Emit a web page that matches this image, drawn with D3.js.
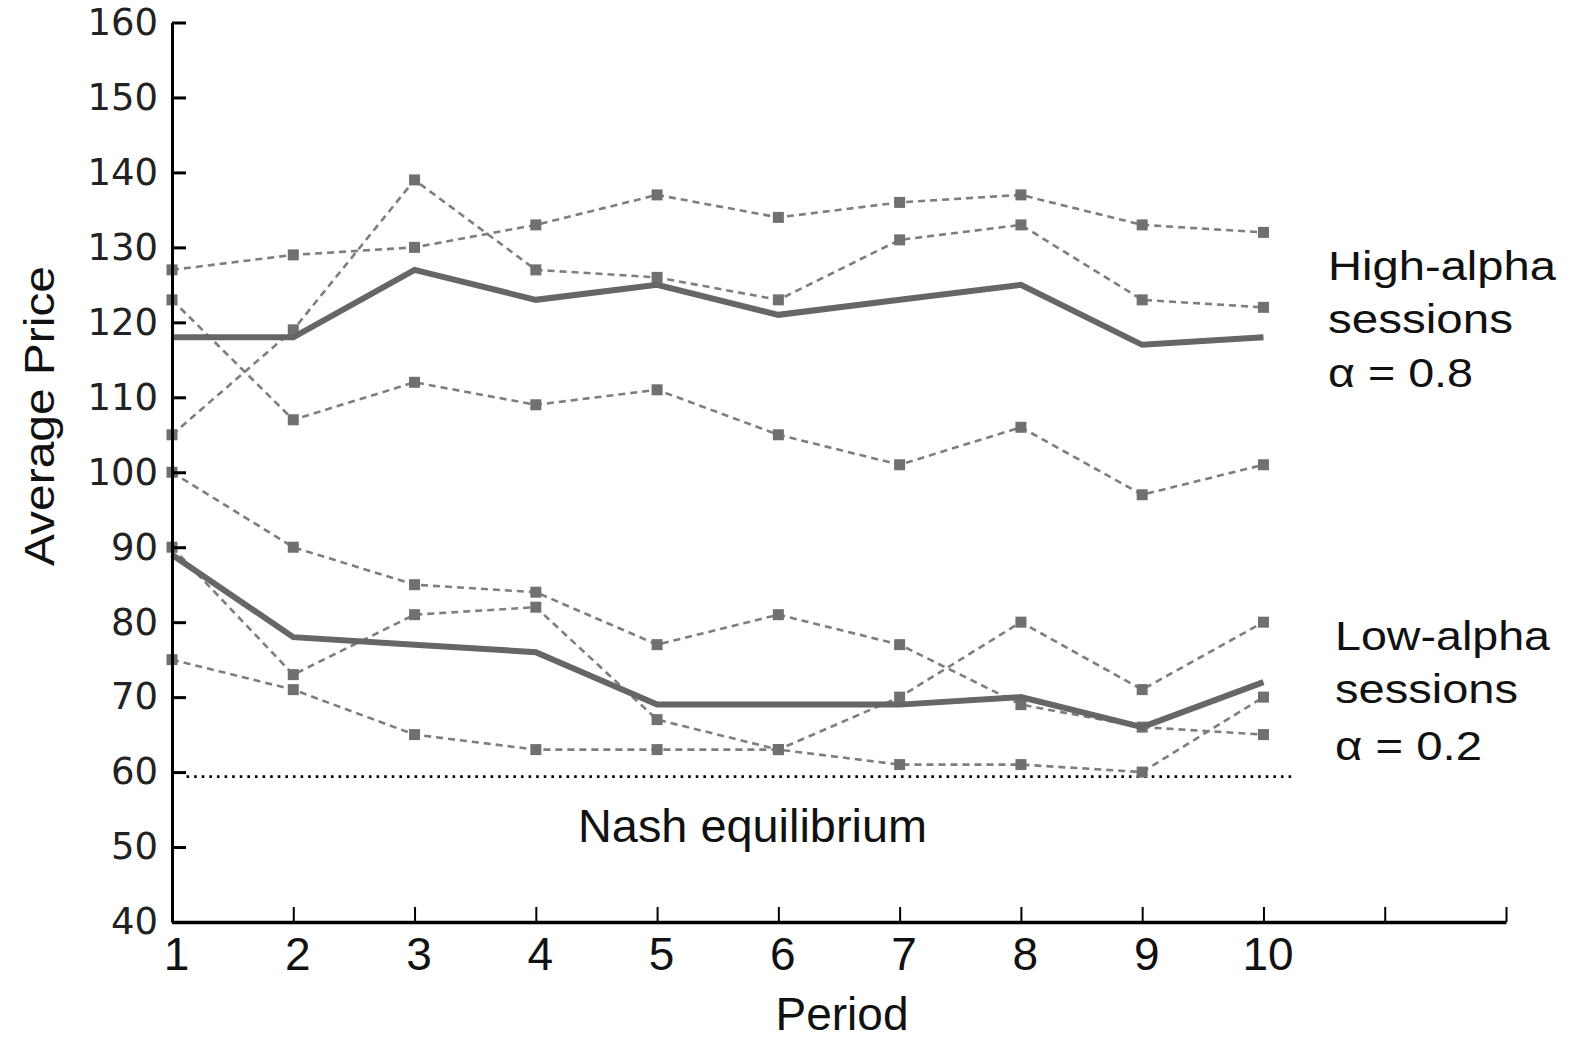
<!DOCTYPE html>
<html>
<head>
<meta charset="utf-8">
<script src="https://cdn.jsdelivr.net/npm/d3@7"></script>
<style>
  html, body { margin: 0; padding: 0; background: #fff; }
  svg { display: block; }
</style>
</head>
<body>
<svg id="chart" width="1585" height="1042"></svg>
<script>
// ---------- data ----------
const periods = [1, 2, 3, 4, 5, 6, 7, 8, 9, 10];

// high-alpha sessions (alpha = 0.8)
const highSession1 = [127, 129, 130, 133, 137, 134, 136, 137, 133, 132];
const highSession2 = [105, 119, 139, 127, 126, 123, 131, 133, 123, 122];
const highSession3 = [123, 107, 112, 109, 111, 105, 101, 106, 97, 101];
const highMean     = [118, 118, 127, 123, 125, 121, 123, 125, 117, 118];

// low-alpha sessions (alpha = 0.2)
const lowSession1 = [100, 90, 85, 84, 77, 81, 77, 69, 66, 65];
const lowSession2 = [90, 73, 81, 82, 67, 63, 70, 80, 71, 80];
const lowSession3 = [75, 71, 65, 63, 63, 63, 61, 61, 60, 70];
const lowMean     = [89, 78, 77, 76, 69, 69, 69, 70, 66, 72];

const nashPrice = 59.4;

const yTickValues = [40, 50, 60, 70, 80, 90, 100, 110, 120, 130, 140, 150, 160];
const xTickValues = [1, 2, 3, 4, 5, 6, 7, 8, 9, 10, 11, 12];
const xTickLabels = ["1", "2", "3", "4", "5", "6", "7", "8", "9", "10", "", ""];

const highLabelLines = ["High-alpha", "sessions", "\u03b1 = 0.8"];
const lowLabelLines  = ["Low-alpha", "sessions", "\u03b1 = 0.2"];

// ---------- layout ----------
const svg = d3.select("#chart");
const x = d3.scaleLinear().domain([1, 12]).range([172, 1506]);
const y = d3.scaleLinear().domain([40, 160]).range([922, 22.5]);

const sessionColor = "#7e7e7e";
const markerColor = "#707070";
const meanColor = "#666666";

const line = d3.line().x((d, i) => x(periods[i])).y(d => y(d));

// Nash equilibrium dotted line
svg.append("line")
  .attr("x1", x(1.12)).attr("x2", x(10.23))
  .attr("y1", y(nashPrice)).attr("y2", y(nashPrice))
  .attr("stroke", "#000").attr("stroke-width", 2.6)
  .attr("stroke-dasharray", "2.6,5");

// session dashed lines
const sessions = [highSession1, highSession2, highSession3, lowSession1, lowSession2, lowSession3];
const gSess = svg.append("g");
sessions.forEach(s => {
  gSess.append("path")
    .attr("d", line(s))
    .attr("fill", "none")
    .attr("stroke", sessionColor)
    .attr("stroke-width", 2.6)
    .attr("stroke-dasharray", "7,5");
});
// markers
sessions.forEach(s => {
  gSess.selectAll(null).data(s).enter().append("rect")
    .attr("x", (d, i) => x(periods[i]) - 5.5)
    .attr("y", d => y(d) - 5.5)
    .attr("width", 11).attr("height", 11)
    .attr("fill", markerColor);
});

// mean lines
[highMean, lowMean].forEach(s => {
  svg.append("path")
    .attr("d", line(s))
    .attr("fill", "none")
    .attr("stroke", meanColor)
    .attr("stroke-width", 6)
    .attr("stroke-linejoin", "miter");
});

// ---------- axes ----------
const yAxis = d3.axisLeft(y)
  .tickValues(yTickValues)
  .tickSizeInner(-14)
  .tickSizeOuter(0)
  .tickPadding(14)
  .tickFormat(d3.format("d"));
const gy = svg.append("g").attr("transform", `translate(${x(1)},0)`).call(yAxis);
gy.select(".domain").attr("stroke", "#000").attr("stroke-width", 3);
gy.selectAll(".tick line").attr("stroke", "#000").attr("stroke-width", 3);
gy.selectAll(".tick text")
  .attr("font-family", "'DejaVu Sans', sans-serif")
  .attr("font-size", 37)
  .attr("fill", "#222");

const xAxis = d3.axisBottom(x)
  .tickValues(xTickValues)
  .tickSizeInner(-15)
  .tickSizeOuter(0)
  .tickPadding(0)
  .tickFormat((d, i) => xTickLabels[i]);
const gx = svg.append("g").attr("transform", `translate(0,${y(40)})`).call(xAxis);
gx.select(".domain").attr("stroke", "#000").attr("stroke-width", 3.5);
gx.selectAll(".tick line").attr("stroke", "#000").attr("stroke-width", 2);
gx.selectAll(".tick text")
  .attr("font-family", "'Liberation Sans', Arial, sans-serif")
  .attr("font-size", 46)
  .attr("fill", "#111")
  .attr("x", 4)
  .attr("y", 48).attr("dy", 0);

// ---------- titles & labels ----------
svg.append("text")
  .attr("x", 842).attr("y", 1030)
  .attr("text-anchor", "middle")
  .attr("font-family", "'Liberation Sans', Arial, sans-serif")
  .attr("font-size", 46)
  .attr("fill", "#111")
  .text("Period");

svg.append("text")
  .attr("transform", "translate(54,416) rotate(-90)")
  .attr("text-anchor", "middle")
  .attr("font-family", "'Liberation Sans', Arial, sans-serif")
  .attr("font-size", 43)
  .attr("textLength", 300)
  .attr("lengthAdjust", "spacingAndGlyphs")
  .attr("fill", "#111")
  .text("Average Price");

svg.append("text")
  .attr("x", 578).attr("y", 842)
  .attr("font-family", "'Liberation Sans', Arial, sans-serif")
  .attr("font-size", 46)
  .attr("textLength", 349)
  .attr("lengthAdjust", "spacingAndGlyphs")
  .attr("fill", "#111")
  .text("Nash equilibrium");

const highWidths = [228, 185, 145];
const lowWidths = [215, 183, 147];
highLabelLines.forEach((t, i) => {
  svg.append("text")
    .attr("x", 1328).attr("y", [280, 333, 387][i])
    .attr("font-family", "'Liberation Sans', Arial, sans-serif")
    .attr("font-size", 40)
    .attr("textLength", highWidths[i])
    .attr("lengthAdjust", "spacingAndGlyphs")
    .attr("fill", "#111")
    .text(t);
});
lowLabelLines.forEach((t, i) => {
  svg.append("text")
    .attr("x", 1335).attr("y", [650, 703, 760][i])
    .attr("font-family", "'Liberation Sans', Arial, sans-serif")
    .attr("font-size", 40)
    .attr("textLength", lowWidths[i])
    .attr("lengthAdjust", "spacingAndGlyphs")
    .attr("fill", "#111")
    .text(t);
});
</script>
</body>
</html>
